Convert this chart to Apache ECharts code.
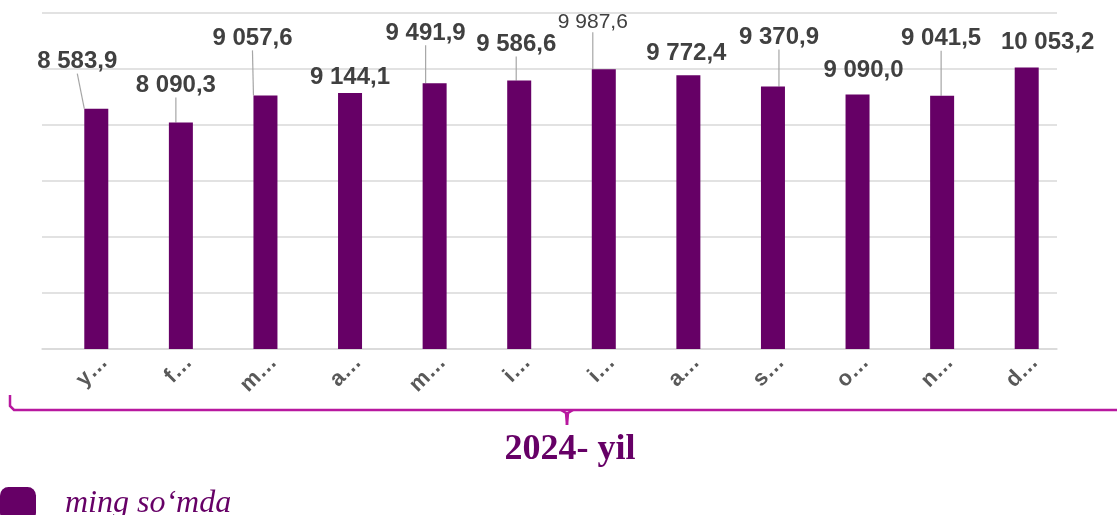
<!DOCTYPE html>
<html>
<head>
<meta charset="utf-8">
<script src="https://cdn.jsdelivr.net/npm/echarts@6/dist/echarts.min.js"></script>
<style>
  html, body { margin: 0; padding: 0; background: #fff; }
  #chart-container { width: 1117px; height: 515px; }
</style>
</head>
<body>
<div id="chart-container"></div>
<script>
var myChart = echarts.init(document.getElementById('chart-container'));

// --- data ---
const months = ['yanvar', 'fevral', 'mart', 'aprel', 'may', 'iyun', 'iyul', 'avgust', 'sentabr', 'oktabr', 'noyabr', 'dekabr'];
const values = [8583.9, 8090.3, 9057.6, 9144.1, 9491.9, 9586.6, 9987.6, 9772.4, 9370.9, 9090.0, 9041.5, 10053.2];
const seriesName = 'ming so‘mda';
const yearLabel = '2024- yil';

// label nudges (dx, dy) from the default 'top' spot, and which ones get a leader line
const labelNudge = [[-19, -31], [-5, -21], [-13, -41], [0, 0], [-9, -34], [-3, -20],
                    [-11, -33], [-2, -6], [6, -33], [6, -8], [-1, -41], [21, -9]];
const withLine = [true, true, true, false, true, true, true, false, true, false, true, false];

const purple = '#660066';
const brace = '#b8189f';

function fmt(v) {
    const parts = v.toFixed(1).split('.');
    return parts[0].replace(/\B(?=(\d{3})+(?!\d))/g, ' ') + ',' + parts[1];
}

const barData = values.map(function (v, i) {
    const item = { value: v, labelLine: { show: withLine[i] } };
    if (i === 6) item.label = { fontWeight: 'normal', fontSize: 21 };
    return item;
});

const option = {
    animation: false,
    grid: [
        { left: 42, width: 1015, top: 13, height: 336 },
        { left: 62, width: 1015, top: 13, height: 336 }
    ],
    legend: {
        data: [seriesName],
        left: -5, top: 482,
        icon: 'roundRect',
        itemWidth: 36, itemHeight: 34,
        textStyle: {
            fontFamily: 'Liberation Serif', fontStyle: 'italic', fontSize: 32,
            color: purple, padding: [0, 0, 0, 24]
        }
    },
    xAxis: [
        {
            type: 'category', gridIndex: 0, data: months,
            axisLine: { lineStyle: { color: '#d9d9d9', width: 1.5 } },
            axisTick: { show: false },
            axisLabel: { show: false }
        },
        {
            type: 'category', gridIndex: 1, data: months,
            axisLine: { show: false },
            axisTick: { show: false },
            axisLabel: {
                interval: 0, rotate: 45, margin: 10,
                fontFamily: 'Liberation Sans', fontWeight: 'bold', fontSize: 22, color: '#595959',
                formatter: function (v) { return v.charAt(0) + '…'; }
            }
        }
    ],
    yAxis: [
        {
            type: 'value', gridIndex: 0, min: 0, max: 12000, interval: 2000,
            axisLabel: { show: false },
            axisLine: { show: false }, axisTick: { show: false },
            splitLine: { lineStyle: { color: '#d9d9d9', width: 1.5 } }
        },
        {
            type: 'value', gridIndex: 1, min: 0, max: 12000, interval: 2000, show: false,
            splitLine: { show: false }
        }
    ],
    series: [
        {
            // empty slot so the real bar sits a little right of the category centre
            type: 'bar', name: 'spacer', xAxisIndex: 0, yAxisIndex: 0,
            data: values.map(function () { return null; }),
            barWidth: 24, barGap: '0%', silent: true
        },
        {
            type: 'bar', name: seriesName, xAxisIndex: 0, yAxisIndex: 0,
            data: barData,
            barWidth: 24, barGap: '0%',
            itemStyle: { color: purple },
            label: {
                show: true, position: 'top', distance: 4,
                fontFamily: 'Liberation Sans', fontWeight: 'bold', fontSize: 24, color: '#404040',
                formatter: function (p) { return fmt(p.value); }
            },
            labelLine: { show: true, lineStyle: { color: '#a6a6a6', width: 1.2 } },
            labelLayout: function (p) {
                return { dx: labelNudge[p.dataIndex][0], dy: labelNudge[p.dataIndex][1] };
            }
        }
    ],
    graphic: [
        {
            type: 'polyline',
            shape: { points: [[10, 395], [10, 406], [14, 410], [1117, 410]] },
            style: { stroke: brace, lineWidth: 2.5, fill: null }
        },
        {
            type: 'polyline',
            shape: { points: [[561, 410], [566, 413], [567, 425]] },
            style: { stroke: brace, lineWidth: 2.5, fill: null }
        },
        {
            type: 'polyline',
            shape: { points: [[573, 410], [568, 413], [567, 425]] },
            style: { stroke: brace, lineWidth: 2.5, fill: null }
        },
        {
            type: 'text', x: 570, y: 450,
            style: {
                text: yearLabel, textAlign: 'center', textVerticalAlign: 'middle',
                font: 'bold 36px "Liberation Serif"', fill: purple
            }
        }
    ]
};

myChart.setOption(option);

window.addEventListener('resize', function () {
    myChart.resize();
});
</script>
</body>
</html>
